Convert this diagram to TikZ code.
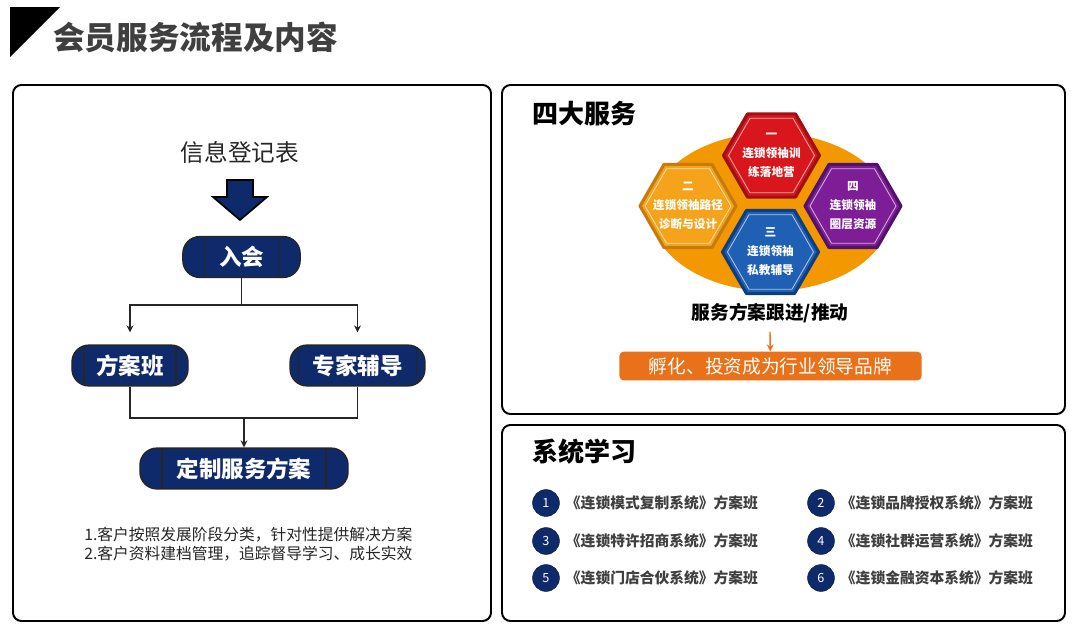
\documentclass[tikz,border=0pt]{standalone}
\usepackage{fontspec}
\setmainfont{Noto Sans CJK SC}
\usepackage{xcolor}
\usetikzlibrary{arrows.meta, positioning, calc}

\definecolor{navy}{HTML}{0F2A6B}
\definecolor{titlegray}{HTML}{3F3F3F}
\definecolor{bodytext}{HTML}{262626}
\definecolor{ringorange}{HTML}{F39800}
\definecolor{barorange}{HTML}{E8711A}
\definecolor{hexred}{HTML}{D9161C}
\definecolor{hexredB}{HTML}{A00F14}
\definecolor{hexorange}{HTML}{F5A31A}
\definecolor{hexorangeB}{HTML}{C77A0E}
\definecolor{hexblue}{HTML}{1F5FB4}
\definecolor{hexblueB}{HTML}{103C80}
\definecolor{hexpurple}{HTML}{7D1E96}
\definecolor{hexpurpleB}{HTML}{50126A}

\begin{document}
\begin{tikzpicture}[
    x=0.025cm, y=-0.025cm,
    panel/.style={draw=black, line width=1.4pt, rounded corners=6pt, fill=white},
    flowbox/.style={rectangle, draw=black!85, line width=1pt, fill=navy, rounded corners=12pt, text=white,
        minimum height=1.02cm, inner sep=0pt, font=\fontsize{16}{18}\selectfont\bfseries,
        path picture={\draw[black!85, line width=0.8pt]
            ([xshift=#1]path picture bounding box.north west) -- ([xshift=#1]path picture bounding box.south west)
            ([xshift=-#1]path picture bounding box.north east) -- ([xshift=-#1]path picture bounding box.south east);}},
    flowbox/.default=0.3cm,
    arrow/.style={line width=0.9pt, draw=black!85, -{Stealth[length=5pt,width=5pt]}},
    line/.style={line width=0.9pt, draw=black!85},
    heading/.style={anchor=west, inner sep=0pt, text=black, font=\fontsize{18.5}{20}\selectfont\bfseries},
    hexlabel/.style={align=center, text=white, inner sep=0pt, font=\fontsize{8.3}{13.5}\selectfont\bfseries},
    numnode/.style={circle, fill=navy, draw=navy!70!black, text=white, minimum size=0.67cm, inner sep=0pt, font=\fontsize{9}{9}\selectfont},
    listtext/.style={inner sep=0pt, text=titlegray, font=\fontsize{10.5}{12}\selectfont\bfseries},
]
    \useasboundingbox (0,0) rectangle (1080,631);

    % title
    \fill[black] (10,7) -- (60,7) -- (10,57) -- cycle;
    \node[anchor=west, inner sep=0pt, text=titlegray, font=\fontsize{22.5}{24}\selectfont\bfseries] (title) at (53,37) {会员服务流程及内容};

    % panels
    \draw[panel] (13,85) rectangle (491,621);
    \draw[panel] (502,85) rectangle (1065,414);
    \draw[panel] (502,425) rectangle (1065,621);

    % left: flow
    \node[text=bodytext, font=\fontsize{16.8}{18}\selectfont] (form) at (240,152) {信息登记表};
    \filldraw[fill=navy, draw=black, line width=1.2pt]
        (227,180) -- (253,180) -- (253,197) -- (267,197) -- (240,220) -- (213,197) -- (227,197) -- cycle;

    \node[flowbox=0.55cm, minimum width=2.93cm] (join) at (241.5,257) {入会};
    \node[flowbox=0.3cm, minimum width=2.9cm] (plan) at (130,365.5) {方案班};
    \node[flowbox=0.22cm, minimum width=3.37cm] (expert) at (357.5,365.5) {专家辅导};
    \node[flowbox=0.55cm, minimum width=5.2cm] (custom) at (244,468.5) {定制服务方案};

    \coordinate (split) at (241.5,305);
    \coordinate (merge) at (244,418);
    \draw[line] (join) -- (split);
    \draw[arrow, shorten >=0.3cm] (split) -| (plan);
    \draw[arrow, shorten >=0.3cm] (split) -| (expert);
    \draw[line] (plan) |- (merge) -| (expert);
    \draw[arrow] (merge) -- (custom);

    \node[anchor=west, align=left, inner sep=0pt, text=bodytext, font=\fontsize{11.2}{13.5}\selectfont] (notes) at (84,544.5)
        {1.客户按照发展阶段分类，针对性提供解决方案\\2.客户资料建档管理，追踪督导学习、成长实效};

    % right top: four services
    \node[heading] (fourhead) at (532,114) {四大服务};
    \fill[ringorange] (771,212) ellipse [x radius=120, y radius=79];

    \foreach \nm/\cx/\cy/\fc/\bc/\txt in {
        hexA/771.5/155.5/hexred/hexredB/{一\\连锁领袖训\\练落地营},
        hexB/688/206/hexorange/hexorangeB/{二\\连锁领袖路径\\诊断与设计},
        hexD/853/206/hexpurple/hexpurpleB/{四\\连锁领袖\\圈层资源},
        hexC/770.5/252/hexblue/hexblueB/{三\\连锁领袖\\私教辅导}} {
        \filldraw[fill=\fc, draw=\bc, line width=2.2pt, line join=round]
            (\cx,\cy) +(0:48) -- +(60:48) -- +(120:48) -- +(180:48) -- +(240:48) -- +(300:48) -- cycle;
        \draw[white!65!\fc, line width=0.6pt]
            (\cx,\cy) +(0:43) -- +(60:43) -- +(120:43) -- +(180:43) -- +(240:43) -- +(300:43) -- cycle;
        \node[hexlabel] (\nm) at (\cx,\cy) {\txt};
    }

    \node[text=black, inner sep=0pt, font=\fontsize{13.3}{15}\selectfont\bfseries] (follow) at (770,313) {服务方案跟进/推动};
    \node[rectangle, fill=barorange, rounded corners=3pt, minimum width=7.55cm, minimum height=0.72cm, inner sep=0pt,
        text=white, font=\fontsize{13.3}{15}\selectfont] (brand) at (770.5,366) {孵化、投资成为行业领导品牌};
    \draw[barorange, line width=1pt, -{Stealth[length=5pt,width=5pt]}] ([yshift=-6pt]follow.south) -- (brand);

    % right bottom: system learning
    \node[heading] (syshead) at (532,452) {系统学习};
    \foreach \n/\x/\y/\t in {
        1/546/503/{《连锁模式复制系统》方案班},
        2/821/503/{《连锁品牌授权系统》方案班},
        3/546/541/{《连锁特许招商系统》方案班},
        4/821/541/{《连锁社群运营系统》方案班},
        5/546/578/{《连锁门店合伙系统》方案班},
        6/821/578/{《连锁金融资本系统》方案班}} {
        \node[numnode] (num\n) at (\x,\y) {\n};
        \node[listtext, right=0.15cm of num\n] (item\n) {\t};
    }
\end{tikzpicture}
\end{document}
